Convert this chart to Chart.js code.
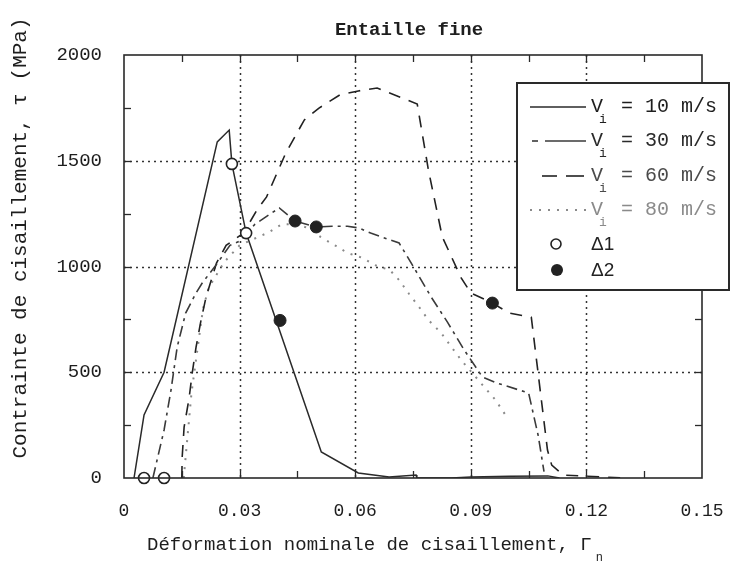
<!DOCTYPE html>
<html><head><meta charset="utf-8">
<script src="https://cdn.jsdelivr.net/npm/chart.js@4.4.0/dist/chart.umd.min.js"></script>
<style>html,body{margin:0;padding:0;background:#fff;}canvas{display:block;}</style>
</head><body>
<canvas id="c" width="731" height="566"></canvas>
<script>
// ---- data ----
const title = 'Entaille fine';
const xTitle = 'Déformation nominale de cisaillement, Γ';
const xTitleSub = 'n';
const yTitle = 'Contrainte de cisaillement, τ (MPa)';
const speeds = ['10 m/s', '30 m/s', '60 m/s', '80 m/s'];
const markerLabels = ['Δ1', 'Δ2'];

const x10 = [0.0026, 0.0052, 0.0104, 0.0242, 0.0273, 0.0280, 0.0317, 0.0512, 0.0608, 0.0688, 0.0758, 0.0760, 0.0850, 0.0900, 0.1000, 0.1100, 0.1130];
const y10 = [0, 298, 500, 1589, 1645, 1485, 1158, 123, 24, 5, 14, 0, 0, 5, 8, 10, 0];

const x30 = [0.0075, 0.0104, 0.0122, 0.0138, 0.0160, 0.0187, 0.0203, 0.0240, 0.0275, 0.0300, 0.0340, 0.0403, 0.0444, 0.0499, 0.0540, 0.0580, 0.0610, 0.0640, 0.0714, 0.0753, 0.0797, 0.0839, 0.0883, 0.0930, 0.0966, 0.1050, 0.1075, 0.1090];
const y30 = [0, 227, 416, 619, 780, 875, 922, 1010, 1100, 1120, 1200, 1277, 1215, 1187, 1190, 1190, 1182, 1158, 1111, 993, 856, 738, 605, 478, 450, 402, 200, 30];

const x60 = [0.0150, 0.0151, 0.0156, 0.0169, 0.0177, 0.0187, 0.0200, 0.0213, 0.0240, 0.0265, 0.0310, 0.0345, 0.0370, 0.0420, 0.0468, 0.0506, 0.0560, 0.0608, 0.0657, 0.0761, 0.0790, 0.0826, 0.0875, 0.0900, 0.0956, 0.1000, 0.1057, 0.1099, 0.1110, 0.1140, 0.1300];
const y60 = [0, 99, 241, 378, 496, 619, 747, 856, 1016, 1100, 1158, 1267, 1329, 1537, 1693, 1749, 1811, 1830, 1844, 1768, 1456, 1140, 946, 875, 827, 780, 760, 132, 61, 14, 0];

const x80 = [0.0155, 0.0160, 0.0175, 0.0190, 0.0205, 0.0220, 0.0260, 0.0300, 0.0377, 0.0410, 0.0450, 0.0480, 0.0510, 0.0550, 0.0580, 0.0620, 0.0650, 0.0690, 0.0714, 0.0740, 0.0766, 0.0790, 0.0823, 0.0850, 0.0875, 0.0935, 0.0964, 0.0990];
const y80 = [0, 100, 400, 600, 800, 900, 1021, 1100, 1163, 1200, 1200, 1180, 1140, 1097, 1064, 1040, 1007, 983, 936, 870, 808, 747, 686, 619, 558, 430, 369, 298];

const d1x = [0.0052, 0.0104, 0.0280, 0.0317];
const d1y = [0, 0, 1485, 1158];
const d2x = [0.0405, 0.0444, 0.0499, 0.0956];
const d2y = [745, 1215, 1187, 827];

const gridX = [0.03, 0.06, 0.09, 0.12];
const gridY = [500, 1000, 1500];
const minorX = [0.015, 0.03, 0.045, 0.06, 0.075, 0.09, 0.105, 0.12, 0.135];
const minorY = [250, 500, 750, 1000, 1250, 1500, 1750];

// ---- helpers ----
const pts = (xs, ys) => xs.map((v, i) => ({x: v, y: ys[i]}));
const MONO = '"Liberation Mono", "DejaVu Sans Mono", monospace';
const INK = '#1e1e1e';
const styles = [
  {color: '#2a2a2a', dash: [], width: 1.5},
  {color: '#3a3a3a', dash: [11, 5, 3, 5], width: 1.6},
  {color: '#222222', dash: [12, 9], width: 1.6},
  {color: '#8a8a8a', dash: [2, 7], width: 2}
];

const deco = {
  id: 'deco',
  beforeDatasetsDraw(chart) {
    const {ctx, chartArea: a, scales: {x, y}} = chart;
    ctx.save();
    ctx.strokeStyle = '#333';
    ctx.lineWidth = 1.5;
    ctx.setLineDash([2, 4]);
    gridX.forEach(v => {
      const p = Math.round(x.getPixelForValue(v)) + 0.5;
      ctx.beginPath(); ctx.moveTo(p, a.top); ctx.lineTo(p, a.bottom); ctx.stroke();
    });
    gridY.forEach(v => {
      const p = Math.round(y.getPixelForValue(v)) + 0.5;
      ctx.beginPath(); ctx.moveTo(a.left, p); ctx.lineTo(a.right, p); ctx.stroke();
    });
    ctx.restore();
  },
  afterDatasetsDraw(chart) {
    const {ctx, chartArea: a, scales: {x, y}} = chart;
    ctx.save();
    // frame
    ctx.strokeStyle = '#2a2a2a';
    ctx.lineWidth = 1.6;
    ctx.setLineDash([]);
    ctx.strokeRect(a.left, a.top, a.right - a.left, a.bottom - a.top);
    // inner ticks
    ctx.lineWidth = 1.3;
    const tl = 7;
    minorX.forEach(v => {
      const p = Math.round(x.getPixelForValue(v)) + 0.5;
      ctx.beginPath(); ctx.moveTo(p, a.bottom); ctx.lineTo(p, a.bottom - tl); ctx.stroke();
      ctx.beginPath(); ctx.moveTo(p, a.top); ctx.lineTo(p, a.top + tl); ctx.stroke();
    });
    minorY.forEach(v => {
      const p = Math.round(y.getPixelForValue(v)) + 0.5;
      ctx.beginPath(); ctx.moveTo(a.left, p); ctx.lineTo(a.left + tl, p); ctx.stroke();
      ctx.beginPath(); ctx.moveTo(a.right, p); ctx.lineTo(a.right - tl, p); ctx.stroke();
    });

    // legend
    const L = 517, T = 83, R = 729, B = 290;
    ctx.fillStyle = '#fff';
    ctx.fillRect(L, T, R - L, B - T);
    ctx.strokeStyle = '#2a2a2a';
    ctx.lineWidth = 2;
    ctx.strokeRect(L, T, R - L, B - T);
    const rows = [107, 141, 176, 210];
    const textCols = ['#1e1e1e', '#2a2a2a', '#4a4a4a', '#8a8a8a'];
    const samples = [
      [[530, 586]],
      [[532, 538], [545, 586]],
      [[542, 557], [566, 584]],
      [[530, 586]]
    ];
    rows.forEach((ry, i) => {
      const s = styles[i];
      ctx.strokeStyle = s.color;
      ctx.lineWidth = s.width;
      ctx.setLineDash(i === 3 ? s.dash : []);
      samples[i].forEach(seg => {
        ctx.beginPath(); ctx.moveTo(seg[0], ry); ctx.lineTo(seg[1], ry); ctx.stroke();
      });
      ctx.setLineDash([]);
      ctx.fillStyle = textCols[i];
      ctx.textBaseline = 'middle';
      ctx.textAlign = 'left';
      ctx.font = '20px ' + MONO;
      ctx.fillText('V', 591, ry);
      ctx.font = '13px ' + MONO;
      ctx.fillText('i', 599, ry + 13);
      ctx.font = '20px ' + MONO;
      ctx.fillText('= ' + speeds[i], 621, ry);
    });
    // marker entries
    ctx.lineWidth = 1.6;
    ctx.strokeStyle = '#222';
    ctx.beginPath(); ctx.arc(556, 244, 5, 0, Math.PI * 2); ctx.stroke();
    ctx.fillStyle = '#222';
    ctx.beginPath(); ctx.arc(557, 270, 6, 0, Math.PI * 2); ctx.fill();
    ctx.font = '19px "Liberation Sans", Arial, sans-serif';
    ctx.textBaseline = 'middle';
    ctx.fillText(markerLabels[0], 591, 245);
    ctx.fillText(markerLabels[1], 591, 271);
    ctx.restore();
  },
  afterDraw(chart) {
    const {ctx} = chart;
    ctx.save();
    ctx.fillStyle = INK;
    ctx.textBaseline = 'middle';
    ctx.textAlign = 'center';
    ctx.font = 'bold 19px ' + MONO;
    ctx.fillText(title, 409, 30);
    ctx.textAlign = 'left';
    ctx.font = '19px ' + MONO;
    ctx.fillText(xTitle, 147, 545);
    const w = ctx.measureText(xTitle).width;
    ctx.font = '12px ' + MONO;
    ctx.fillText(xTitleSub, 147 + w + 4, 558);
    ctx.translate(20, 238);
    ctx.rotate(-Math.PI / 2);
    ctx.textAlign = 'center';
    ctx.font = '21px ' + MONO;
    ctx.fillText(yTitle, 0, 0);
    ctx.restore();
  }
};

const series = [[x10, y10], [x30, y30], [x60, y60], [x80, y80]];
const datasets = [
  {label: markerLabels[0], type: 'scatter', data: pts(d1x, d1y), pointStyle: 'circle', pointRadius: 5.5,
   pointBorderWidth: 1.6, pointBorderColor: '#222', pointBackgroundColor: '#fff', showLine: false, clip: false, order: 0},
  {label: markerLabels[1], type: 'scatter', data: pts(d2x, d2y), pointStyle: 'circle', pointRadius: 6,
   pointBorderWidth: 1, pointBorderColor: '#222', pointBackgroundColor: '#222', showLine: false, clip: false, order: 0}
].concat(series.map((s, i) => ({
  label: speeds[i], type: 'line', data: pts(s[0], s[1]),
  borderColor: styles[i].color, borderDash: styles[i].dash, borderWidth: styles[i].width,
  pointRadius: 0, tension: 0, fill: false, order: 1 + i
})));

new Chart(document.getElementById('c'), {
  type: 'line',
  data: {datasets},
  plugins: [deco],
  options: {
    responsive: false, animation: false, devicePixelRatio: 1,
    layout: {padding: {top: 55, right: 29, left: 0, bottom: 0}},
    plugins: {legend: {display: false}, tooltip: {enabled: false}, title: {display: false}},
    scales: {
      x: {
        type: 'linear', min: 0, max: 0.15,
        grid: {display: false}, border: {display: false},
        ticks: {stepSize: 0.03, padding: 14, color: INK, font: {family: MONO, size: 18},
          maxRotation: 0, autoSkip: false,
          callback: v => Math.abs(v) < 1e-9 ? '0' : v.toFixed(2)},
        afterFit: s => { s.height = 88; s.paddingLeft = 0; s.paddingRight = 0; }
      },
      y: {
        type: 'linear', min: 0, max: 2000,
        grid: {display: false}, border: {display: false},
        ticks: {stepSize: 500, padding: 14, color: INK, font: {family: MONO, size: 19},
          callback: v => String(v)},
        afterFit: s => { s.width = 124; s.paddingTop = 0; s.paddingBottom = 0; }
      }
    }
  }
});
</script>
</body></html>
